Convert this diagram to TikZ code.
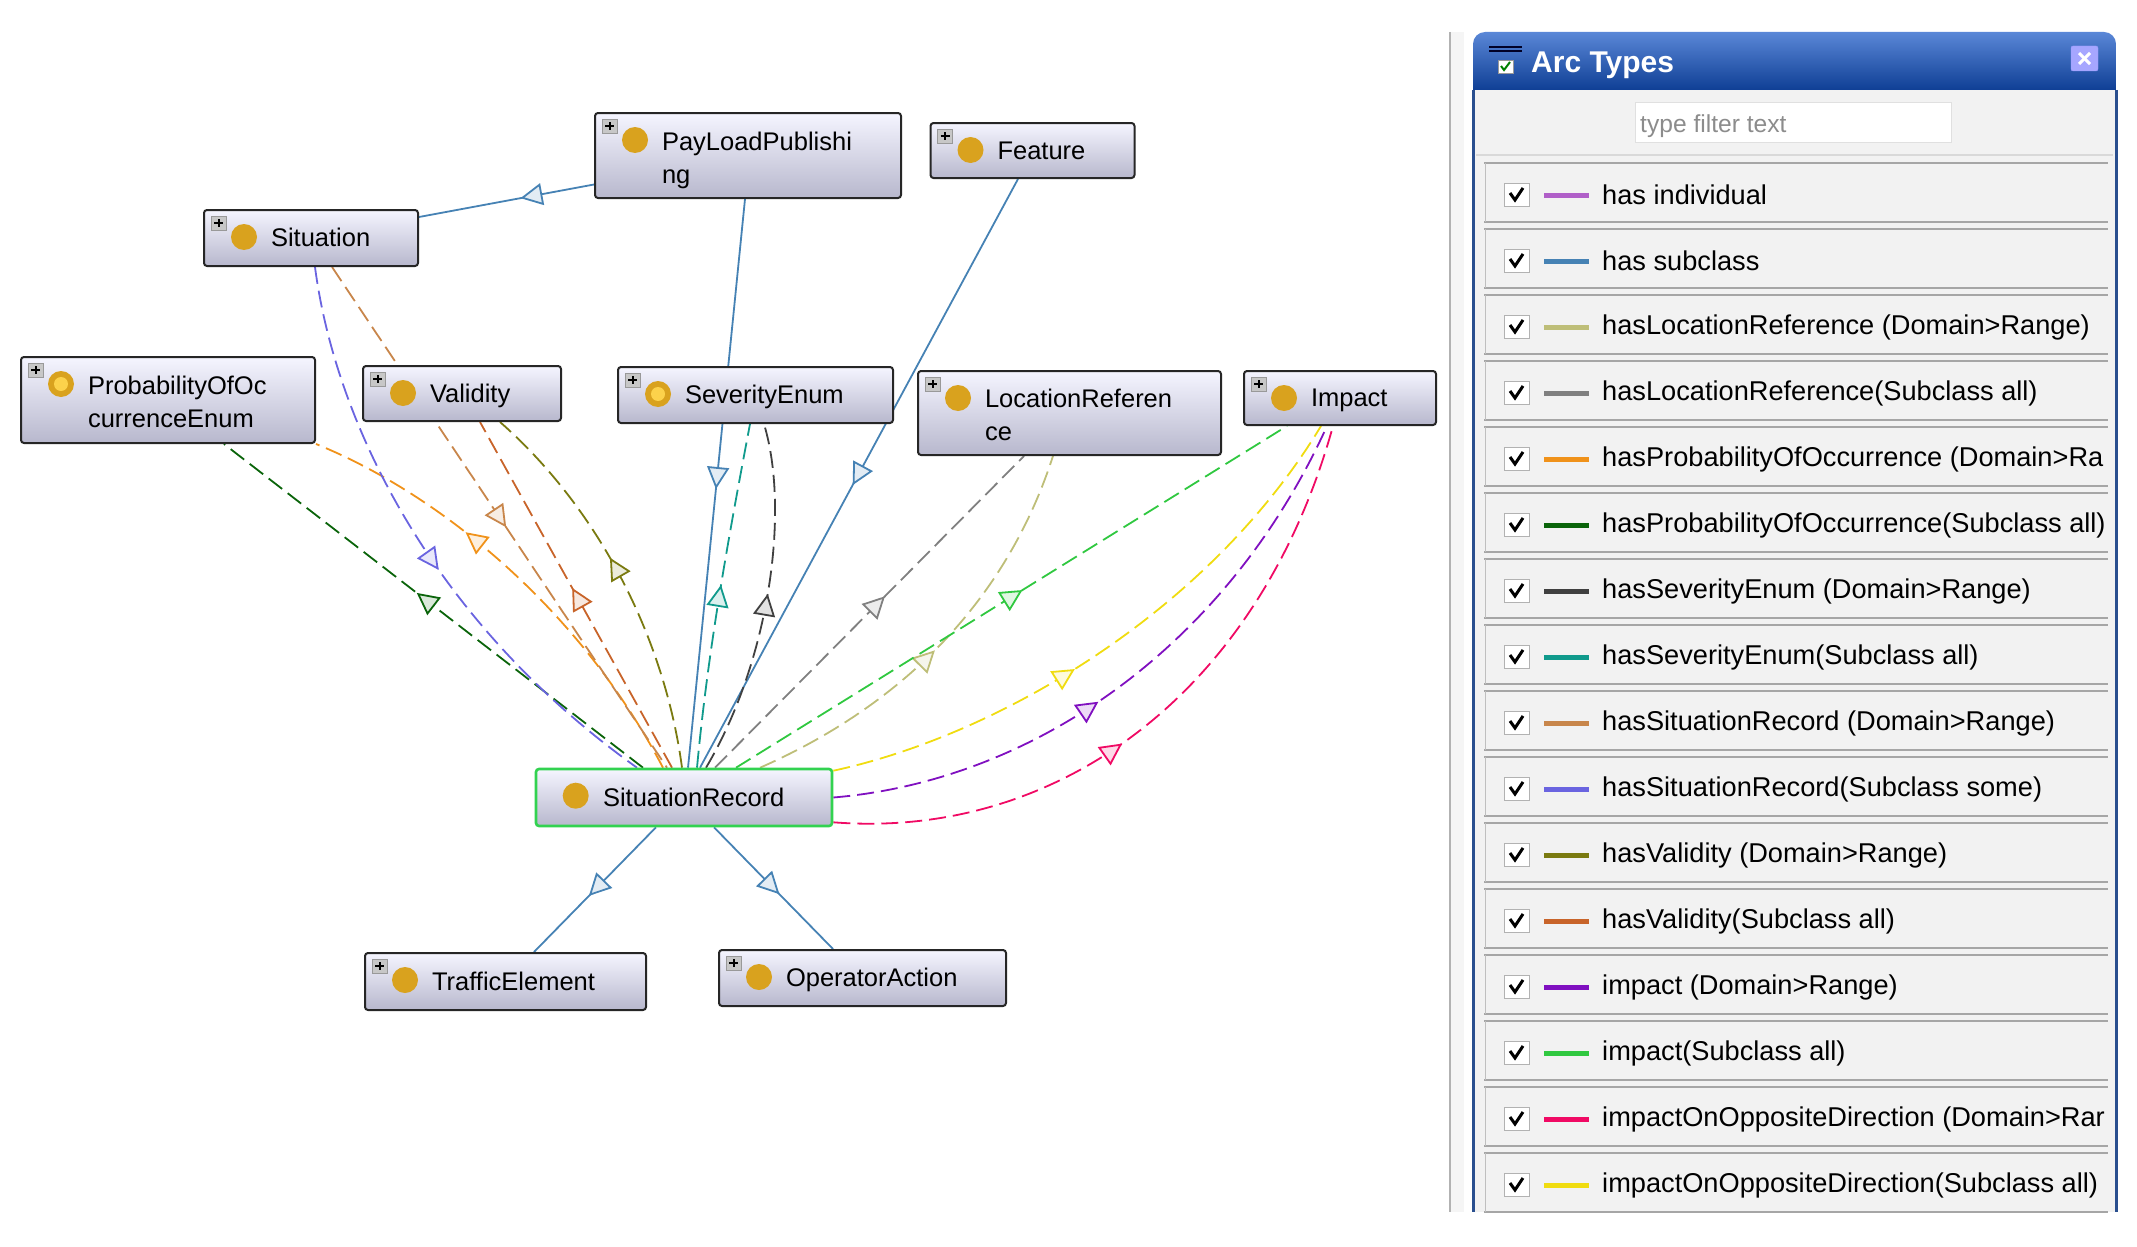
\documentclass[tikz,border=0pt]{standalone}
\usepackage{fontspec}
\setmainfont{Liberation Sans}
\usepackage{xcolor}
\definecolor{arcindiv}{RGB}{176,95,200}
\definecolor{arcsub}{RGB}{70,130,180}
\definecolor{arclocdom}{RGB}{190,190,120}
\definecolor{arclocsub}{RGB}{128,128,128}
\definecolor{arcprobdom}{RGB}{240,146,26}
\definecolor{arcprobsub}{RGB}{10,100,10}
\definecolor{arcsevdom}{RGB}{64,64,64}
\definecolor{arcsevsub}{RGB}{16,154,140}
\definecolor{arcsitdom}{RGB}{200,134,75}
\definecolor{arcsitsub}{RGB}{106,100,224}
\definecolor{arcvaldom}{RGB}{122,122,16}
\definecolor{arcvalsub}{RGB}{200,100,42}
\definecolor{arcimpdom}{RGB}{128,16,192}
\definecolor{arcimpsub}{RGB}{48,200,64}
\definecolor{arcoppdom}{RGB}{240,10,100}
\definecolor{arcoppsub}{RGB}{240,220,16}
\definecolor{classgold}{RGB}{217,162,30}
\definecolor{panelgrey}{RGB}{242,242,242}
\definecolor{panelblue}{RGB}{42,79,143}
\definecolor{titletop}{RGB}{90,135,215}
\definecolor{titlebottom}{RGB}{15,63,149}
\definecolor{recordgreen}{RGB}{50,210,80}
\usetikzlibrary{arrows.meta,backgrounds,decorations.markings}

\tikzset{
    classbox/.style 2 args={draw=black!85,line width=2pt,rounded corners=3pt,top color=white!96!blue,bottom color=blue!30!black!28!white,
        minimum width=#1,minimum height=#2,text width=#1,inner xsep=0pt,inner ysep=0pt,align=left,text height=23pt,text depth=5.4pt,
        font=\fontsize{25.5}{33}\selectfont,execute at begin node={\leftskip=67pt}},
    twolines/.style={text depth=34pt},
    arc/.style 2 args={color=#1,line width=1.8pt,postaction={decorate,decoration={markings,
        mark=at position #2 with {\arrow[solid,line width=1.8pt]{Triangle[length=22pt,width=22pt,fill=#1!15]}}}}},
    dashedarc/.style={dash pattern=on 17pt off 7pt},
    rowlabel/.style={anchor=west,inner sep=0pt,font=\fontsize{27.2}{30}\selectfont}
}

\begin{document}
\begin{tikzpicture}[x=1pt,y=-1pt]
    \useasboundingbox (0,0) rectangle (2137,1247);

    \node[classbox={214pt}{56pt}] (situation) at (311,238) {Situation};
    \node[classbox={306pt}{85pt},twolines] (payload) at (748,155.5) {PayLoadPublishi\\ng};
    \node[classbox={204pt}{55pt}] (feature) at (1032.5,150.5) {Feature};
    \node[classbox={294pt}{86pt},twolines] (prob) at (168,400) {ProbabilityOfOc\\currenceEnum};
    \node[classbox={198pt}{55pt}] (validity) at (462,393.5) {Validity};
    \node[classbox={275pt}{56pt}] (severity) at (755.5,395) {SeverityEnum};
    \node[classbox={303pt}{84pt},twolines] (locref) at (1069.5,413) {LocationReferen\\ce};
    \node[classbox={192pt}{54pt}] (impact) at (1340,398) {Impact};
    \node[classbox={296pt}{57pt},draw=recordgreen,line width=2.6pt] (record) at (684,797.5) {SituationRecord};
    \node[classbox={281pt}{57pt}] (traffic) at (505.5,981.5) {TrafficElement};
    \node[classbox={287pt}{56pt}] (operator) at (862.5,978) {OperatorAction};

    \foreach \n in {situation,payload,feature,prob,validity,severity,locref,impact,record,traffic,operator}
        \fill[classgold] ([shift={(41,28)}]\n.north west) circle (13);
    \foreach \n in {prob,severity}
        \fill[yellow!55!orange!70!white] ([shift={(41,28)}]\n.north west) circle (7);
    \foreach \n in {situation,payload,feature,prob,validity,severity,locref,impact,traffic,operator} {
        \draw[black!40,fill=black!22] ([shift={(8,7)}]\n.north west) rectangle ([shift={(23,21)}]\n.north west);
        \draw[black,line width=2pt] ([shift={(11,14)}]\n.north west) -- ([shift={(20,14)}]\n.north west);
        \draw[black,line width=2pt] ([shift={(15.5,10)}]\n.north west) -- ([shift={(15.5,18)}]\n.north west);
    }

    \begin{scope}[on background layer]
        \draw[arc={arcsub}{.42}] ([yshift=-29pt]payload.west) -- ([yshift=21pt]situation.east);
        \draw[arc={arcsub}{.51}] ([xshift=-3pt]payload.south) -- ([xshift=4pt]record.north);
        \draw[arc={arcsub}{.52}] ([xshift=-14.5pt]feature.south) -- ([xshift=16pt]record.north);
        \draw[arc={arcsub}{.55}] ([xshift=-28pt]record.south) -- ([xshift=28.5pt]traffic.north);
        \draw[arc={arcsub}{.55}] ([xshift=30pt]record.south) -- ([xshift=-29.5pt]operator.north);

        \draw[arc={arcprobsub}{.54},dashedarc] ([xshift=-41pt]record.north) -- ([xshift=56pt]prob.south);
        \draw[arc={arcprobdom}{.64},dashedarc] ([xshift=-21pt]record.north) .. controls (575,600) and (430,490) .. (prob.south east);
        \draw[arc={arcsitsub}{.54},dashedarc] ([xshift=4pt]situation.south) .. controls (335,420) and (430,620) .. ([xshift=-47pt]record.north);
        \draw[arc={arcsitdom}{.52},dashedarc] ([xshift=21pt]situation.south) -- ([xshift=-17pt]record.north);
        \draw[arc={arcvaldom}{.56},dashedarc] ([xshift=-2pt]record.north) .. controls (665,640) and (600,510) .. ([xshift=38pt]validity.south);
        \draw[arc={arcvalsub}{.52},dashedarc] ([xshift=-12pt]record.north) -- ([xshift=18pt]validity.south);
        \draw[arc={arcsevsub}{.53},dashedarc] ([xshift=13pt]record.north) .. controls (708,650) and (728,540) .. ([xshift=-5.5pt]severity.south);
        \draw[arc={arcsevdom}{.52},dashedarc] ([xshift=22pt]record.north) .. controls (770,660) and (790,510) .. ([xshift=8.5pt]severity.south);
        \draw[arc={arclocsub}{.55},dashedarc] ([xshift=31pt]record.north) -- ([xshift=-45.5pt]locref.south);
        \draw[arc={arclocdom}{.48},dashedarc] ([xshift=76pt]record.north) .. controls (880,715) and (1000,620) .. ([xshift=-16.5pt]locref.south);
        \draw[arc={arcimpsub}{.52},dashedarc] ([xshift=52pt]record.north) -- ([xshift=-53pt]impact.south);
        \draw[arc={arcoppsub}{.43},dashedarc] ([yshift=-3pt]record.north east) .. controls (1000,735) and (1210,610) .. ([xshift=-19pt]impact.south);
        \draw[arc={arcimpdom}{.44},dashedarc] (record.east) .. controls (1040,780) and (1230,640) .. ([xshift=-13pt]impact.south);
        \draw[arc={arcoppdom}{.44},dashedarc] ([yshift=5pt]record.south east) .. controls (1060,840) and (1260,690) .. ([xshift=-7pt]impact.south);
    \end{scope}

    % arc types view
    \fill[black!4] (1450,32) rectangle (1464,1212);
    \draw[black!30,line width=1.5pt] (1450,32) -- (1450,1212);
    \fill[panelgrey] (1473,90) rectangle (2116,1212);
    \shade[top color=titletop,bottom color=titlebottom,rounded corners=12pt] (1473,90) -- (1473,32) -- (2116,32) -- (2116,90);
    \draw[panelblue,line width=3pt] (1473,90) -- (1473,1212);
    \draw[panelblue,line width=3pt] (2116,90) -- (2116,1212);
    \draw[black!85!blue,line width=2pt] (1489,47) -- (1522,47);
    \draw[black!85!blue,line width=2pt] (1489,51) -- (1522,51);
    \draw[black!40,fill=white] (1498,60) rectangle (1513,73);
    \draw[green!50!black,line width=2pt] (1501,66) -- (1504,70) -- (1510,62);
    \node[anchor=west,inner sep=0pt,text=white,font=\fontsize{30}{32}\bfseries\selectfont] (title) at (1531,65) {Arc Types};
    \draw[white!60!blue,fill=white!65!blue,rounded corners=2pt] (2071,46) rectangle (2098,71);
    \draw[white,line width=3pt] (2079,53) -- (2090,64);
    \draw[white,line width=3pt] (2090,53) -- (2079,64);
    \draw[black!12,fill=white] (1635,102) rectangle (1951,142);
    \node[anchor=west,inner sep=0pt,text=black!45,font=\fontsize{24.6}{26}\selectfont] (filter) at (1640,126) {type filter text};
    \draw[black!15,line width=1.5pt] (1476,155) -- (2113,155);

    \begin{scope}
        \clip (1484,155) rectangle (2108,1212);
        \foreach \col/\txt [count=\i from 0] in {
            arcindiv/has individual,
            arcsub/has subclass,
            arclocdom/hasLocationReference (Domain>Range),
            arclocsub/hasLocationReference(Subclass all),
            arcprobdom/hasProbabilityOfOccurrence (Domain>Ra,
            arcprobsub/hasProbabilityOfOccurrence(Subclass all),
            arcsevdom/hasSeverityEnum (Domain>Range),
            arcsevsub/hasSeverityEnum(Subclass all),
            arcsitdom/hasSituationRecord (Domain>Range),
            arcsitsub/hasSituationRecord(Subclass some),
            arcvaldom/hasValidity (Domain>Range),
            arcvalsub/hasValidity(Subclass all),
            arcimpdom/impact (Domain>Range),
            arcimpsub/impact(Subclass all),
            arcoppdom/impactOnOppositeDirection (Domain>Rar,
            arcoppsub/impactOnOppositeDirection(Subclass all)} {
            \pgfmathsetmacro{\rowy}{195+66*\i}
            \draw[black!35,line width=2pt] (1484,\rowy-32) -- (2108,\rowy-32);
            \draw[black!35,line width=2pt] (1484,\rowy+27) -- (2108,\rowy+27);
            \draw[black!25] (1485,\rowy-32) -- (1485,\rowy+27);
            \draw[black!30,fill=white] (1504,\rowy-12) rectangle (1529,\rowy+11);
            \draw[black,line width=3pt] (1510,\rowy-2) -- (1515,\rowy+5) -- (1523,\rowy-7);
            \draw[\col,line width=5pt] (1544,\rowy) -- (1589,\rowy);
            \node[rowlabel] (row\i) at (1602,\rowy) {\txt};
        }
    \end{scope}
\end{tikzpicture}
\end{document}
